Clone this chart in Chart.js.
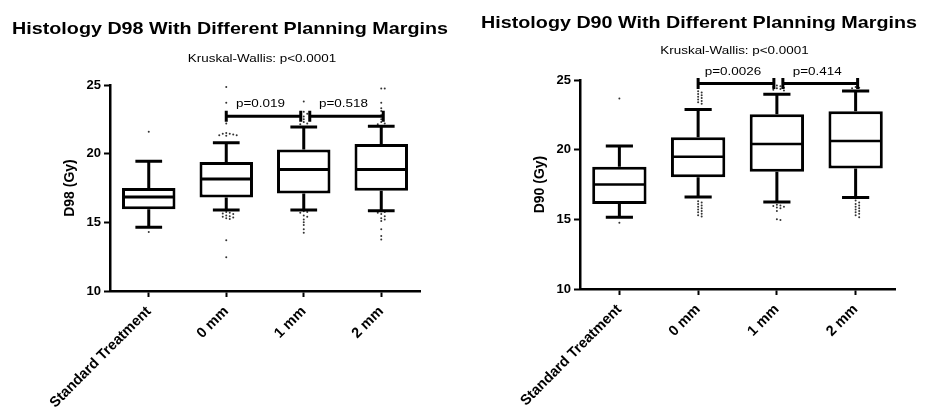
<!DOCTYPE html>
<html>
<head>
<meta charset="utf-8">
<script src="https://cdn.jsdelivr.net/npm/chart.js@4.4.1/dist/chart.umd.min.js"></script>
<style>
  body { margin: 0; background: #fff; }
  #wrap { position: relative; width: 925px; height: 416px; }
  .panel { position: absolute; top: 0; height: 416px; }
</style>
</head>
<body>
<div id="wrap">
  <div class="panel" style="left:0;width:460px"><canvas id="d98"></canvas></div>
  <div class="panel" style="left:460px;width:465px"><canvas id="d90"></canvas></div>
</div>
<script>
const grupos = ["Standard Treatment", "0 mm", "1 mm", "2 mm"];
const ticksY = [10, 15, 20, 25];

// D98 (Gy)
const d98Min = [14.65, 15.9, 15.9, 15.85];
const d98Q1 = [15.95, 16.8, 17.1, 17.3];
const d98Med = [16.85, 18.15, 18.85, 18.85];
const d98Q3 = [17.5, 19.4, 20.3, 20.7];
const d98Max = [19.45, 20.8, 21.95, 22.0];
const d98Atipicos = [
  [21.6, 14.3],
  [24.85, 23.7, 22.2, 21.5, 21.45, 21.4, 21.35, 21.3, 21.35, 21.45,
   15.75, 15.7, 15.65, 15.6, 15.5, 15.45, 15.4, 15.35, 15.3, 15.25, 13.7, 12.45],
  [23.8, 23.05, 22.9, 22.7, 22.5, 22.3, 22.2, 22.15,
   15.8, 15.75, 15.7, 15.5, 15.4, 15.2, 15.0, 14.8, 14.5, 14.25],
  [24.75, 24.75, 23.7, 23.3, 23.1, 22.8, 22.5, 22.3, 22.2, 22.15,
   15.8, 15.75, 15.7, 15.6, 15.45, 15.3, 15.2, 15.1, 14.5, 14.0, 13.75]
];
const d98Comparaciones = [[1, 2, "p=0.019"], [2, 3, "p=0.518"]];
const d98NivelP = 22.73;

// D90 (Gy)
const d90Min = [15.15, 16.6, 16.25, 16.57];
const d90Q1 = [16.1, 18.02, 18.42, 18.65];
const d90Med = [17.5, 19.5, 20.4, 20.63];
const d90Q3 = [18.78, 20.9, 22.54, 22.76];
const d90Max = [20.27, 22.88, 23.97, 24.21];
const d90Atipicos = [
  [23.67, 14.75],
  [24.2, 24.1, 24.0, 23.9, 23.8, 23.7, 23.6, 23.5, 23.4, 23.3,
   16.3, 16.2, 16.1, 16.0, 15.9, 15.8, 15.7, 15.6, 15.5, 15.4, 15.3, 15.2],
  [24.6, 24.55, 24.5, 24.45, 24.4, 24.35, 24.3, 24.25,
   16.05, 16.0, 15.95, 15.9, 15.85, 15.8, 15.6, 15.0, 14.95],
  [24.5, 24.45, 24.4,
   16.35, 16.2, 16.1, 16.0, 15.9, 15.8, 15.7, 15.6, 15.5, 15.4, 15.3, 15.15]
];
const d90Comparaciones = [[1, 2, "p=0.0026"], [2, 3, "p=0.414"]];
const d90NivelP = 24.74;

const fuente = "'Liberation Sans', Arial, sans-serif";
Chart.defaults.font.family = fuente;
Chart.defaults.color = "#000";

// reparte los puntos atipicos para que no se encimen (tipo enjambre)
function repartir(valores, i) {
  const puestos = [];
  const pasos = [0, 1, -1, 2, -2, 3, -3, 4, -4, 5, -5];
  return [...valores].sort((a, b) => b - a).map((v) => {
    let off = 0;
    for (const p of pasos) {
      if (!puestos.some((q) => q.p === p && Math.abs(q.v - v) < 0.16)) {
        off = p;
        break;
      }
    }
    puestos.push({ p: off, v });
    return { x: i + off * 0.045, y: v };
  });
}

// el original se ve un poco estirado a lo ancho
function textoAncho(ctx, texto, x, y, fuenteCss, sx) {
  ctx.save();
  ctx.translate(x, y);
  ctx.scale(sx, 1);
  ctx.font = fuenteCss;
  ctx.fillText(texto, 0, 0);
  ctx.restore();
}

function anotaciones(cfg) {
  return {
    id: "anot" + cfg.id,
    afterDatasetsDraw(chart) {
      const ctx = chart.ctx;
      const x = chart.scales.x;
      const y = chart.scales.y;
      const area = chart.chartArea;
      const barras = chart.getDatasetMeta(0).data;
      ctx.save();
      ctx.strokeStyle = "#000";
      ctx.fillStyle = "#000";
      ctx.lineCap = "butt";

      // bigotes y medianas
      barras.forEach((barra, i) => {
        const cx = x.getPixelForValue(i);
        const media = barra.width / 4;
        const yMin = y.getPixelForValue(cfg.min[i]);
        const yMax = y.getPixelForValue(cfg.max[i]);
        const yQ1 = y.getPixelForValue(cfg.q1[i]);
        const yQ3 = y.getPixelForValue(cfg.q3[i]);
        ctx.lineWidth = 3;
        ctx.beginPath();
        ctx.moveTo(cx, yQ3); ctx.lineTo(cx, yMax);
        ctx.moveTo(cx, yQ1); ctx.lineTo(cx, yMin);
        ctx.moveTo(cx - media, yMax); ctx.lineTo(cx + media, yMax);
        ctx.moveTo(cx - media, yMin); ctx.lineTo(cx + media, yMin);
        ctx.stroke();
        const yMed = y.getPixelForValue(cfg.med[i]);
        ctx.lineWidth = cfg.grosorMediana;
        ctx.beginPath();
        ctx.moveTo(cx - barra.width / 2 + 1.5, yMed);
        ctx.lineTo(cx + barra.width / 2 - 1.5, yMed);
        ctx.stroke();
      });

      // comparaciones
      const yp = y.getPixelForValue(cfg.nivelP);
      ctx.textAlign = "center";
      ctx.textBaseline = "middle";
      cfg.comparaciones.forEach(([a, b, texto], k) => {
        let x1 = x.getPixelForValue(a);
        let x2 = x.getPixelForValue(b);
        if (k === 0) x2 -= 3; else x1 += 6;
        if (k === cfg.comparaciones.length - 1) x2 += 2;
        ctx.lineWidth = 3;
        ctx.beginPath();
        ctx.moveTo(x1, yp); ctx.lineTo(x2, yp);
        ctx.moveTo(x1, yp - 5.5); ctx.lineTo(x1, yp + 5.5);
        ctx.moveTo(x2, yp - 5.5); ctx.lineTo(x2, yp + 5.5);
        ctx.stroke();
        textoAncho(ctx, texto, (x1 + x2) / 2 - 3, yp - 12, "11.5px " + fuente, 1.17);
      });

      // titulo y Kruskal-Wallis
      textoAncho(ctx, cfg.titulo, cfg.tituloX, cfg.tituloAlto, "bold 17px " + fuente, 1.16);
      textoAncho(ctx, "Kruskal-Wallis: p<0.0001", (area.left + area.right) / 2 - 3, cfg.kwY,
        "11px " + fuente, 1.22);
      ctx.restore();
    }
  };
}

function crearGrafica(cfg) {
  const atipicos = cfg.atipicos.flatMap((vals, i) => repartir(vals, i));
  return new Chart(document.getElementById(cfg.id), {
    type: "bar",
    data: {
      labels: grupos,
      datasets: [
        {
          data: cfg.q1.map((q, i) => [q, cfg.q3[i]]),
          backgroundColor: "#fff",
          borderColor: "#000",
          borderWidth: 3,
          borderSkipped: false,
          grouped: false,
          barPercentage: 0.69,
          categoryPercentage: 1,
          xAxisID: "x",
          order: 2
        },
        {
          type: "scatter",
          data: atipicos,
          xAxisID: "xo",
          pointRadius: 1,
          pointBorderWidth: 0,
          pointBackgroundColor: "#333",
          showLine: false,
          order: 1
        }
      ]
    },
    options: {
      responsive: true,
      maintainAspectRatio: false,
      animation: false,
      events: [],
      layout: { padding: { top: cfg.arriba, right: cfg.derecha, left: 0, bottom: 0 } },
      plugins: { legend: { display: false }, tooltip: { enabled: false }, title: { display: false } },
      scales: {
        x: {
          type: "category",
          offset: true,
          grid: { offset: false, drawOnChartArea: false, tickLength: 6, tickWidth: 2, tickColor: "#000" },
          border: { color: "#000", width: 2.5 },
          ticks: {
            font: { size: 14.5, weight: "bold" },
            color: "#000",
            minRotation: 45,
            maxRotation: 45,
            autoSkip: false,
            padding: 6
          },
          afterFit: (s) => { s.height = cfg.altoX; }
        },
        xo: { type: "linear", min: -0.5, max: 3.5, offset: false, display: false },
        y: {
          min: 10,
          max: 25,
          grid: { drawOnChartArea: false, tickLength: 6, tickWidth: 2, tickColor: "#000" },
          border: { color: "#000", width: 2.5 },
          ticks: { font: { size: 13, weight: "bold" }, color: "#000", padding: 3 },
          afterBuildTicks: (s) => { s.ticks = ticksY.map((v) => ({ value: v })); },
          title: {
            display: true,
            text: cfg.tituloEje,
            font: { size: 14, weight: "bold" },
            color: "#000",
            padding: { top: cfg.padTituloY, bottom: 0 }
          },
          afterFit: (s) => { s.width = cfg.anchoY; }
        }
      }
    },
    plugins: [anotaciones(cfg)]
  });
}

crearGrafica({
  id: "d98",
  min: d98Min, q1: d98Q1, med: d98Med, q3: d98Q3, max: d98Max,
  atipicos: d98Atipicos,
  comparaciones: d98Comparaciones, nivelP: d98NivelP,
  titulo: "Histology D98 With Different Planning Margins",
  tituloEje: "D98 (Gy)",
  tituloX: 230, tituloAlto: 29, kwY: 59,
  arriba: 85, derecha: 40, altoX: 125, anchoY: 110, padTituloY: 62,
  grosorMediana: 3
});

crearGrafica({
  id: "d90",
  min: d90Min, q1: d90Q1, med: d90Med, q3: d90Q3, max: d90Max,
  atipicos: d90Atipicos,
  comparaciones: d90Comparaciones, nivelP: d90NivelP,
  titulo: "Histology D90 With Different Planning Margins",
  tituloEje: "D90 (Gy)",
  tituloX: 239, tituloAlto: 23, kwY: 51,
  arriba: 80, derecha: 30, altoX: 127, anchoY: 120, padTituloY: 72,
  grosorMediana: 2.5
});
</script>
</body>
</html>
